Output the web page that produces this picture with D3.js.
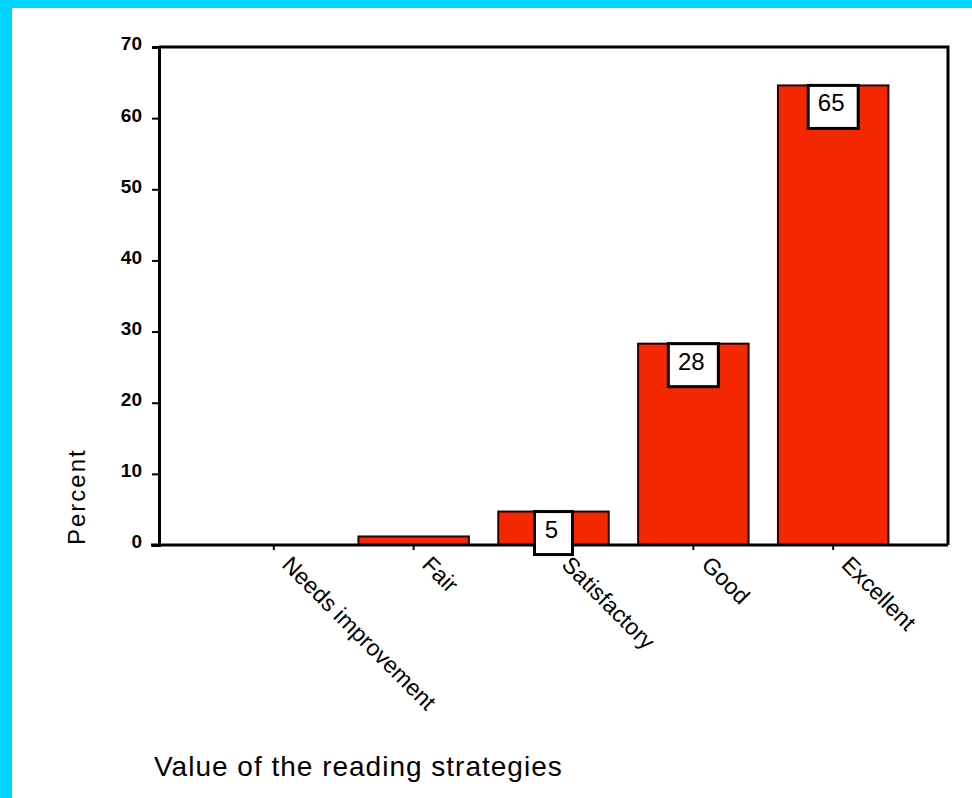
<!DOCTYPE html>
<html>
<head>
<meta charset="utf-8">
<script src="https://cdn.jsdelivr.net/npm/d3@7"></script>
<style>
  html, body { margin: 0; padding: 0; background: #fff; }
  svg { display: block; }
</style>
</head>
<body>
<script>
// Survey responses: rated value of the reading strategies (percent of respondents)
const categories = ["Needs improvement", "Fair", "Satisfactory", "Good", "Excellent"];
const percents = [0, 1.2, 4.7, 28.3, 64.6];
const labelled = [false, false, true, true, true];
const yTicks = [0, 10, 20, 30, 40, 50, 60, 70];

const W = 972, H = 798;
const svg = d3.select("body").append("svg").attr("width", W).attr("height", H);

// cyan page border on the top and left edges
svg.append("rect").attr("x", 0).attr("y", 0).attr("width", W).attr("height", H).attr("fill", "#fff");
svg.append("rect").attr("x", 0).attr("y", 0).attr("width", W).attr("height", 8).attr("fill", "#00d4ff");
svg.append("rect").attr("x", 0).attr("y", 0).attr("width", 12).attr("height", H).attr("fill", "#00d4ff");

const plotL = 159, plotR = 948, plotT = 47, plotB = 545;

const x = d3.scaleBand().domain(categories).range([plotL, plotR])
  .paddingInner(0.21).paddingOuter(0.426);
const y = d3.scaleLinear().domain([0, 70]).range([plotB, plotT]);

const font = "Arial, 'Liberation Sans', sans-serif";

// bars
svg.append("g").selectAll("rect").data(categories).join("rect")
  .attr("x", d => x(d))
  .attr("y", (d, i) => y(percents[i]))
  .attr("width", x.bandwidth())
  .attr("height", (d, i) => y(0) - y(percents[i]))
  .attr("fill", "#f42800")
  .attr("stroke", "#2a0000")
  .attr("stroke-width", 2)
  .attr("display", (d, i) => percents[i] > 0 ? null : "none");

// frame: top and right edges
svg.append("path")
  .attr("d", `M${plotL},${plotT}H${plotR}V${plotB}`)
  .attr("fill", "none").attr("stroke", "#000").attr("stroke-width", 3);

// y axis
const yAxis = svg.append("g").attr("transform", `translate(${plotL},0)`)
  .call(d3.axisLeft(y).tickValues(yTicks).tickSize(7).tickPadding(10).tickFormat(d3.format("d")));
yAxis.attr("font-size", null).attr("font-family", null);
yAxis.select(".domain").attr("stroke-width", 3);
yAxis.selectAll(".tick line").attr("stroke-width", 2);
yAxis.selectAll("text")
  .style("font-family", font).style("font-size", "19px").style("font-weight", "bold")
  .attr("fill", "#000").attr("dy", "0.15em");

// x axis
const xAxis = svg.append("g").attr("transform", `translate(0,${plotB})`)
  .call(d3.axisBottom(x).tickSize(5).tickSizeOuter(0));
xAxis.attr("font-size", null).attr("font-family", null);
xAxis.select(".domain").attr("d", `M${plotL - 8},0H${plotR}`).attr("stroke-width", 3);
xAxis.selectAll(".tick line").attr("stroke-width", 2);
xAxis.selectAll("text")
  .style("font-family", font).style("font-size", "23px")
  .attr("fill", "#000")
  .attr("text-anchor", "start")
  .attr("x", 0).attr("y", 0).attr("dy", 0)
  .attr("transform", "translate(7,21) rotate(45)");

// value labels: white boxes at the top of the bars
const fmt = d3.format(".0f");
const lab = svg.append("g").selectAll("g").data(categories.filter((d, i) => labelled[i])).join("g")
  .attr("transform", d => {
    const i = categories.indexOf(d);
    return `translate(${x(d) + x.bandwidth() / 2},${y(percents[i])})`;
  });
lab.each(function(d) {
  const i = categories.indexOf(d);
  const g = d3.select(this);
  const t = fmt(percents[i]);
  const w = t.length > 1 ? 50 : 38;
  g.append("rect").attr("x", -w / 2).attr("y", 0).attr("width", w).attr("height", 43)
    .attr("fill", "#fff").attr("stroke", "#000").attr("stroke-width", 3);
  g.append("text").attr("x", -2).attr("y", 26).attr("text-anchor", "middle")
    .style("font-family", font).style("font-size", "24px").attr("fill", "#000").text(t);
});

// axis titles
svg.append("text")
  .attr("transform", `translate(85,${plotB}) rotate(-90)`)
  .attr("text-anchor", "start")
  .style("font-family", font).style("font-size", "24px").style("letter-spacing", "2px")
  .attr("fill", "#000")
  .text("Percent");

svg.append("text")
  .attr("x", 154).attr("y", 776)
  .style("font-family", font).style("font-size", "28px").style("letter-spacing", "1px")
  .attr("fill", "#000")
  .text("Value of the reading strategies");
</script>
</body>
</html>
